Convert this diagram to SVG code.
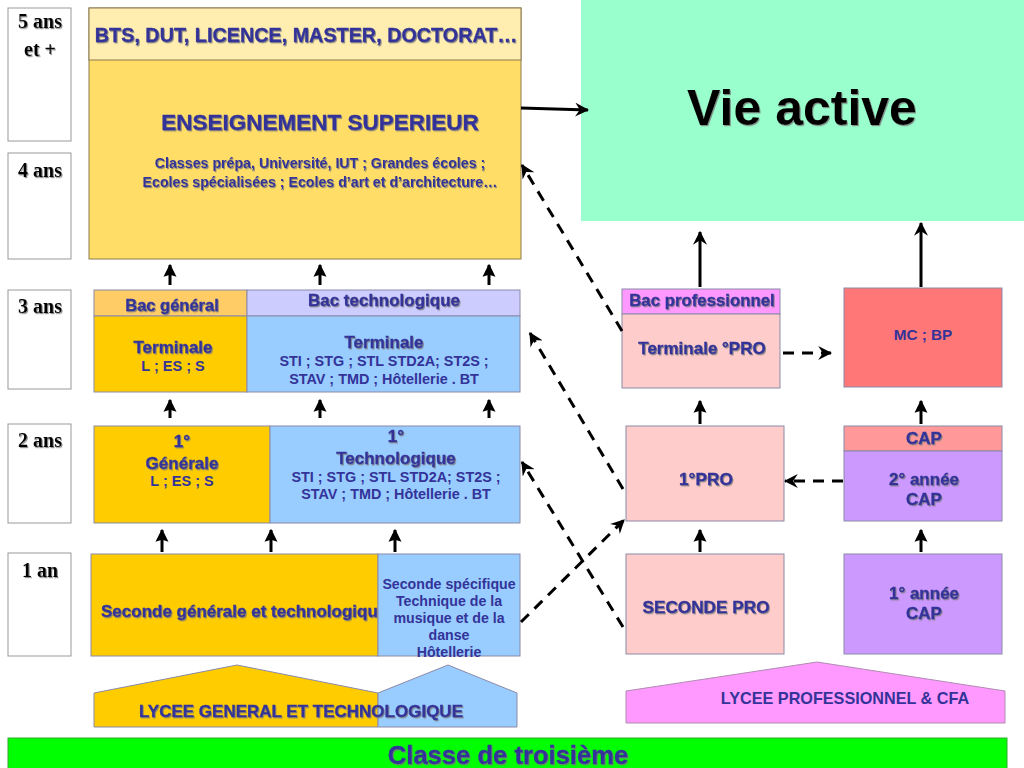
<svg xmlns="http://www.w3.org/2000/svg" width="1024" height="768" viewBox="0 0 1024 768">
<defs>
<filter id="sh" x="-5%" y="-20%" width="110%" height="150%"><feDropShadow dx="1" dy="1.2" stdDeviation="0.6" flood-color="#777" flood-opacity="0.8"/></filter>
<marker id="tri" viewBox="0 0 10 10" refX="9" refY="5" markerWidth="13" markerHeight="14" markerUnits="userSpaceOnUse" orient="auto"><path d="M0,0 L10,5 L0,10 L1.5,5 z" fill="#000"/></marker>
<marker id="stl" viewBox="0 0 12 12" refX="11" refY="6" markerWidth="14" markerHeight="14" markerUnits="userSpaceOnUse" orient="auto"><path d="M0,0 L12,6 L0,12 L4,6 z" fill="#000"/></marker>
</defs>
<style>
.yr{fill:#fff;stroke:#999;stroke-width:1}
.yt{font-family:"Liberation Serif",serif;font-weight:bold;font-size:20px;fill:#000;text-anchor:middle}
.bx{stroke:#8a8aa8;stroke-width:1}
.t{font-family:"Liberation Sans",Arial,sans-serif;font-weight:bold;fill:#333399;text-anchor:middle}
.h{stroke:#333399;stroke-width:0.35}
.sol{stroke:#000;stroke-width:3;fill:none}
.dsh{stroke:#000;stroke-width:3;fill:none;stroke-dasharray:11,8}
</style>
<rect width="1024" height="768" fill="#fff"/>

<g id="years">
<rect class="yr" x="8" y="8" width="63" height="133"/>
<text class="yt" x="40" y="28" filter="url(#sh)">5 ans</text>
<text class="yt" x="40" y="56" filter="url(#sh)">et +</text>
<rect class="yr" x="8" y="153" width="63" height="106"/>
<text class="yt" x="40" y="177" filter="url(#sh)">4 ans</text>
<rect class="yr" x="8" y="290" width="63" height="99"/>
<text class="yt" x="40" y="313" filter="url(#sh)">3 ans</text>
<rect class="yr" x="8" y="424" width="63" height="99"/>
<text class="yt" x="40" y="447" filter="url(#sh)">2 ans</text>
<rect class="yr" x="8" y="553" width="63" height="103"/>
<text class="yt" x="40" y="577" filter="url(#sh)">1 an</text>
</g>

<g id="vie-active">
<rect x="581" y="0" width="443" height="221" fill="#99FFCC"/>
<text x="802" y="125" font-family="Liberation Sans,Arial,sans-serif" font-weight="bold" font-size="50" fill="#000" text-anchor="middle" filter="url(#sh)">Vie active</text>
</g>

<g id="superieur">
<rect x="89" y="8" width="432" height="251" fill="#FFDD66" stroke="#8B7B50"/>
<rect x="89" y="8" width="432" height="52" fill="#FFEEB0" stroke="#8B7B50"/>
<text class="t h" x="306" y="42" font-size="19.8" filter="url(#sh)">BTS, DUT, LICENCE, MASTER, DOCTORAT…</text>
<text class="t h" x="320" y="130" font-size="22.5" filter="url(#sh)">ENSEIGNEMENT SUPERIEUR</text>
<text class="t" x="320" y="168" font-size="14.2" filter="url(#sh)">Classes prépa, Université, IUT ; Grandes écoles ;</text>
<text class="t" x="320" y="187" font-size="14.2" filter="url(#sh)">Ecoles spécialisées ; Ecoles d’art et d’architecture…</text>
</g>

<g id="terminale-generale">
<rect class="bx" x="94" y="290" width="153" height="26" fill="#FFCC66"/>
<rect class="bx" x="94" y="316" width="153" height="76" fill="#FFCC00"/>
<text class="t h" x="172" y="311" font-size="16.5" filter="url(#sh)">Bac général</text>
<text class="t h" x="173" y="353" font-size="17" filter="url(#sh)">Terminale</text>
<text class="t" x="173" y="371" font-size="14.5">L ; ES ; S</text>
</g>

<g id="terminale-techno">
<rect class="bx" x="247" y="290" width="273" height="26" fill="#CCCCFF"/>
<rect class="bx" x="247" y="316" width="273" height="76" fill="#99CCFF"/>
<text class="t h" x="384" y="306" font-size="17" filter="url(#sh)">Bac technologique</text>
<text class="t h" x="384" y="348" font-size="17" filter="url(#sh)">Terminale</text>
<text class="t" x="384" y="366" font-size="14.4">STI ; STG ; STL STD2A; ST2S ;</text>
<text class="t" x="384" y="384" font-size="14.4">STAV ; TMD ; Hôtellerie . BT</text>
</g>

<g id="premiere-generale">
<rect class="bx" x="94" y="426" width="176" height="97" fill="#FFCC00"/>
<text class="t h" x="182" y="447" font-size="17" filter="url(#sh)">1°</text>
<text class="t h" x="182" y="469" font-size="17" filter="url(#sh)">Générale</text>
<text class="t" x="182" y="486" font-size="14.5">L ; ES ; S</text>
</g>

<g id="premiere-techno">
<rect class="bx" x="270" y="426" width="250" height="97" fill="#99CCFF"/>
<text class="t h" x="396" y="442" font-size="17" filter="url(#sh)">1°</text>
<text class="t h" x="396" y="464" font-size="17" filter="url(#sh)">Technologique</text>
<text class="t" x="396" y="482" font-size="14.4">STI ; STG ; STL STD2A; ST2S ;</text>
<text class="t" x="396" y="499" font-size="14.4">STAV ; TMD ; Hôtellerie . BT</text>
</g>

<g id="seconde-gt">
<rect class="bx" x="91" y="554" width="287" height="102" fill="#FFCC00"/>
<text class="t h" x="101" y="617" font-size="17" style="text-anchor:start" filter="url(#sh)">Seconde générale et technologique</text>
</g>

<g id="seconde-specifique">
<rect class="bx" x="378" y="554" width="142" height="102" fill="#99CCFF"/>
<text class="t" x="449" y="589" font-size="14.2">Seconde spécifique</text>
<text class="t" x="449" y="606" font-size="14.2">Technique de la</text>
<text class="t" x="449" y="623" font-size="14.2">musique et de la</text>
<text class="t" x="449" y="640" font-size="14.2">danse</text>
<text class="t" x="449" y="657" font-size="14.2">Hôtellerie</text>
</g>

<g id="lycee-gt">
<polygon points="94,693 237,665 378,693 378,727 94,727" fill="#FFCC00" stroke="#8a8aa8"/>
<polygon points="378,693 448,665 517,693 517,727 378,727" fill="#99CCFF" stroke="#8a8aa8"/>
<text class="t h" x="301" y="717" font-size="17" filter="url(#sh)">LYCEE GENERAL ET TECHNOLOGIQUE</text>
</g>

<g id="terminale-pro">
<rect class="bx" x="622" y="289" width="158" height="25" fill="#FF99FF"/>
<rect class="bx" x="622" y="314" width="158" height="74" fill="#FFCCCC"/>
<text class="t h" x="702" y="306" font-size="16.8" filter="url(#sh)">Bac professionnel</text>
<text class="t h" x="702" y="354" font-size="17" filter="url(#sh)">Terminale °PRO</text>
</g>

<g id="mc-bp">
<rect class="bx" x="844" y="288" width="158" height="99" fill="#FF7777"/>
<text class="t" x="923" y="340" font-size="15.3">MC ; BP</text>
</g>

<g id="premiere-pro">
<rect class="bx" x="626" y="426" width="158" height="95" fill="#FFCCCC"/>
<text class="t h" x="706" y="485" font-size="17.3" filter="url(#sh)">1°PRO</text>
</g>

<g id="cap-2">
<rect class="bx" x="844" y="426" width="158" height="25" fill="#FF9999"/>
<rect class="bx" x="844" y="451" width="158" height="70" fill="#CC99FF"/>
<text class="t h" x="924" y="444" font-size="17" filter="url(#sh)">CAP</text>
<text class="t h" x="924" y="485" font-size="17" filter="url(#sh)">2° année</text>
<text class="t h" x="924" y="505" font-size="17" filter="url(#sh)">CAP</text>
</g>

<g id="seconde-pro">
<rect class="bx" x="626" y="554" width="158" height="100" fill="#FFCCCC"/>
<text class="t h" x="706" y="613" font-size="17.2" filter="url(#sh)">SECONDE PRO</text>
</g>

<g id="cap-1">
<rect class="bx" x="844" y="554" width="158" height="100" fill="#CC99FF"/>
<text class="t h" x="924" y="599" font-size="17" filter="url(#sh)">1° année</text>
<text class="t h" x="924" y="619" font-size="17" filter="url(#sh)">CAP</text>
</g>

<g id="lycee-pro">
<polygon points="626,691 817,662 1005,691 1005,723 626,723" fill="#FF99FF" stroke="#b08ab0"/>
<text class="t" x="845" y="704" font-size="16.2">LYCEE  PROFESSIONNEL &amp; CFA</text>
</g>

<g id="troisieme">
<rect x="8" y="738" width="999" height="32" fill="#00FF00" stroke="#3a3"/>
<text class="t h" x="508" y="764" font-size="25.6" filter="url(#sh)">Classe de troisième</text>
</g>

<g id="connectors">
<line class="sol" x1="521" y1="108" x2="588" y2="110" marker-end="url(#stl)"/>
<line class="sol" x1="170" y1="285" x2="170" y2="265" marker-end="url(#tri)"/>
<line class="sol" x1="320" y1="285" x2="320" y2="265" marker-end="url(#tri)"/>
<line class="sol" x1="489" y1="285" x2="489" y2="265" marker-end="url(#tri)"/>
<line class="sol" x1="170" y1="418" x2="170" y2="400" marker-end="url(#tri)"/>
<line class="sol" x1="320" y1="418" x2="320" y2="400" marker-end="url(#tri)"/>
<line class="sol" x1="489" y1="418" x2="489" y2="400" marker-end="url(#tri)"/>
<line class="sol" x1="162" y1="552" x2="162" y2="530" marker-end="url(#tri)"/>
<line class="sol" x1="271" y1="552" x2="271" y2="530" marker-end="url(#tri)"/>
<line class="sol" x1="395" y1="552" x2="395" y2="530" marker-end="url(#tri)"/>
<line class="sol" x1="700" y1="287" x2="700" y2="232" marker-end="url(#stl)"/>
<line class="sol" x1="921" y1="287" x2="921" y2="223" marker-end="url(#stl)"/>
<line class="sol" x1="700" y1="424" x2="700" y2="401" marker-end="url(#tri)"/>
<line class="sol" x1="921" y1="424" x2="921" y2="401" marker-end="url(#tri)"/>
<line class="sol" x1="700" y1="552" x2="700" y2="530" marker-end="url(#tri)"/>
<line class="sol" x1="921" y1="552" x2="921" y2="530" marker-end="url(#tri)"/>
<line class="dsh" x1="622" y1="331" x2="522" y2="165" marker-end="url(#stl)"/>
<line class="dsh" x1="623" y1="489" x2="530" y2="333" marker-end="url(#stl)"/>
<line class="dsh" x1="623" y1="627" x2="522" y2="462" marker-end="url(#stl)"/>
<line class="dsh" x1="521" y1="622" x2="624" y2="520" marker-end="url(#stl)"/>
<line class="dsh" x1="783" y1="353" x2="831" y2="353" marker-end="url(#stl)"/>
<line class="dsh" x1="843" y1="481" x2="785" y2="481" marker-end="url(#stl)"/>
</g>
</svg>
